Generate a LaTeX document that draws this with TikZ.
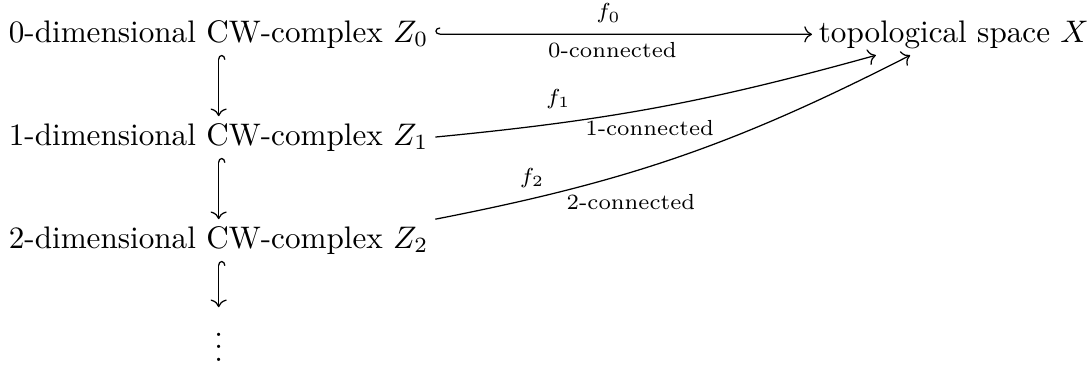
\documentclass[tikz,border=0pt]{standalone}
\usetikzlibrary{arrows.meta,cd}

\tikzset{
  cwnode/.style={anchor=base west, inner sep=2pt},
  incl/.style={{tikzcd right hook}-{tikzcd to}},
  map/.style={-{tikzcd to}},
  lab/.style={font=\scriptsize},
}

\begin{document}
\begin{tikzpicture}[x=0.321pt, y=0.321pt]
    \useasboundingbox (0,0) rectangle (1092,364);

        % 1. I complessi CW, uno sotto l'altro
        \node[cwnode] (z0) at (2,322) {0-dimensional CW-complex $Z_0$};
        \node[cwnode] (z1) at (2,219) {1-dimensional CW-complex $Z_1$};
        \node[cwnode] (z2) at (2,116) {2-dimensional CW-complex $Z_2$};
        \node[anchor=base, inner sep=2pt] (dots) at (z2.base |- 0,3) {$\vdots$};

        % 2. Lo spazio topologico a destra
        \node[cwnode] (x) at (812,322) {topological space $X$};

        % 3. Inclusioni verticali
        \draw[incl] (z0) -- (z1);
        \draw[incl] (z1) -- (z2);
        \draw[incl] (z2) -- (dots);

        % 4. Le mappe verso X
        \draw[incl] (z0) -- (x)
            node[lab, pos=0.46, above=0pt] {$f_0$}
            node[lab, pos=0.47, below=-1pt] {0-connected};
        \draw[map] (z1.east) to[bend right=5]
            node[lab, pos=0.26, above=1pt] {$f_1$}
            node[lab, pos=0.48, below=0pt] {1-connected} ([xshift=-25pt]x.south);
        \draw[map] (z2.north east) to[bend right=8]
            node[lab, pos=0.18, above=0pt] {$f_2$}
            node[lab, pos=0.39, below=3.5pt] {2-connected} ([xshift=-14pt]x.south);
    \end{tikzpicture}
\end{document}
